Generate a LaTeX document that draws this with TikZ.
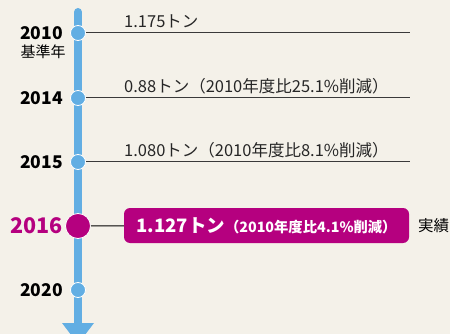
\documentclass[tikz,border=0pt]{standalone}
\usepackage{fontspec}
\setmainfont{Noto Sans CJK JP}
\newfontfamily\jp{Noto Sans CJK JP}
\definecolor{bgc}{HTML}{F4F1E9}
\definecolor{axisblue}{HTML}{62AEE3}
\definecolor{mag}{HTML}{B5007F}
\definecolor{linegray}{HTML}{3A3A3A}
\begin{document}
\begin{tikzpicture}[x=1pt,y=-1pt,
  dot/.style={circle,fill=axisblue,draw=white,line width=0.8pt,minimum size=15pt,inner sep=0pt},
  bigdot/.style={circle,fill=mag,draw=white,line width=0.8pt,minimum size=25pt,inner sep=0pt},
  year/.style={anchor=east,inner sep=0pt,font=\jp\bfseries\fontsize{17.5}{17.5}\selectfont},
  hline/.style={draw=linegray,line width=1pt},
  val/.style={anchor=base west,inner sep=0pt,text=black!85,font=\jp\fontsize{16.5}{16.5}\selectfont},
  hibox/.style={rounded corners=6pt,fill=mag,text=white,minimum width=285pt,minimum height=35pt,inner sep=0pt,font=\jp\bfseries}
]
\fill[bgc] (0,0) rectangle (450,334);
\useasboundingbox (0,0) rectangle (450,334);
\clip (0,0) rectangle (450,334);
% axis
\coordinate (atop) at (78,12);
\coordinate (abot) at (78,324);
\draw[axisblue,line width=8pt,line cap=round] (atop) -- (abot);
\fill[axisblue] (62,323) -- (94,323) -- (78,344) -- cycle;
% dots
\node[dot] (c2010) at (78,33) {};
\node[dot] (c2014) at (78,98) {};
\node[dot] (c2015) at (78,162) {};
\node[bigdot] (c2016) at (78,226) {};
\node[dot] (c2020) at (78,290) {};
% year labels
\node[year] (y2010) at (63,33) {2010};
\node[anchor=north,inner sep=0pt,font=\jp\fontsize{15}{15}\selectfont] (ky) at (43,45) {基準年};
\node[year] (y2014) at (63,98) {2014};
\node[year] (y2015) at (63,162) {2015};
\node[year,text=mag,font=\jp\bfseries\fontsize{21.5}{21.5}\selectfont] (y2016) at (63,226) {2016};
\node[year] (y2020) at (63,290) {2020};
% lines
\coordinate (e2010) at (410,33);
\coordinate (e2014) at (410,98);
\coordinate (e2015) at (410,162);
\draw[hline] (c2010) -- (e2010);
\draw[hline] (c2014) -- (e2014);
\draw[hline] (c2015) -- (e2015);
% values
\node[val] (v2010) at (124,28) {1.175トン};
\node[val] (v2014) at (124,93) {0.88トン（2010年度比25.1\%削減）};
\node[val] (v2015) at (124,157) {1.080トン（2010年度比8.1\%削減）};
% 2016 highlight
\node[hibox] (b2016) at (266.5,225.5) {{\fontsize{18.5}{18.5}\selectfont 1.127トン}{\fontsize{14.3}{15}\selectfont （2010年度比4.1\%削減）}};
\draw[line width=1pt,black] (c2016) -- (b2016);
\node[anchor=west,inner sep=0pt,font=\jp\fontsize{15.5}{15.5}\selectfont] (jj) at (418,226) {実績};
\end{tikzpicture}
\end{document}
